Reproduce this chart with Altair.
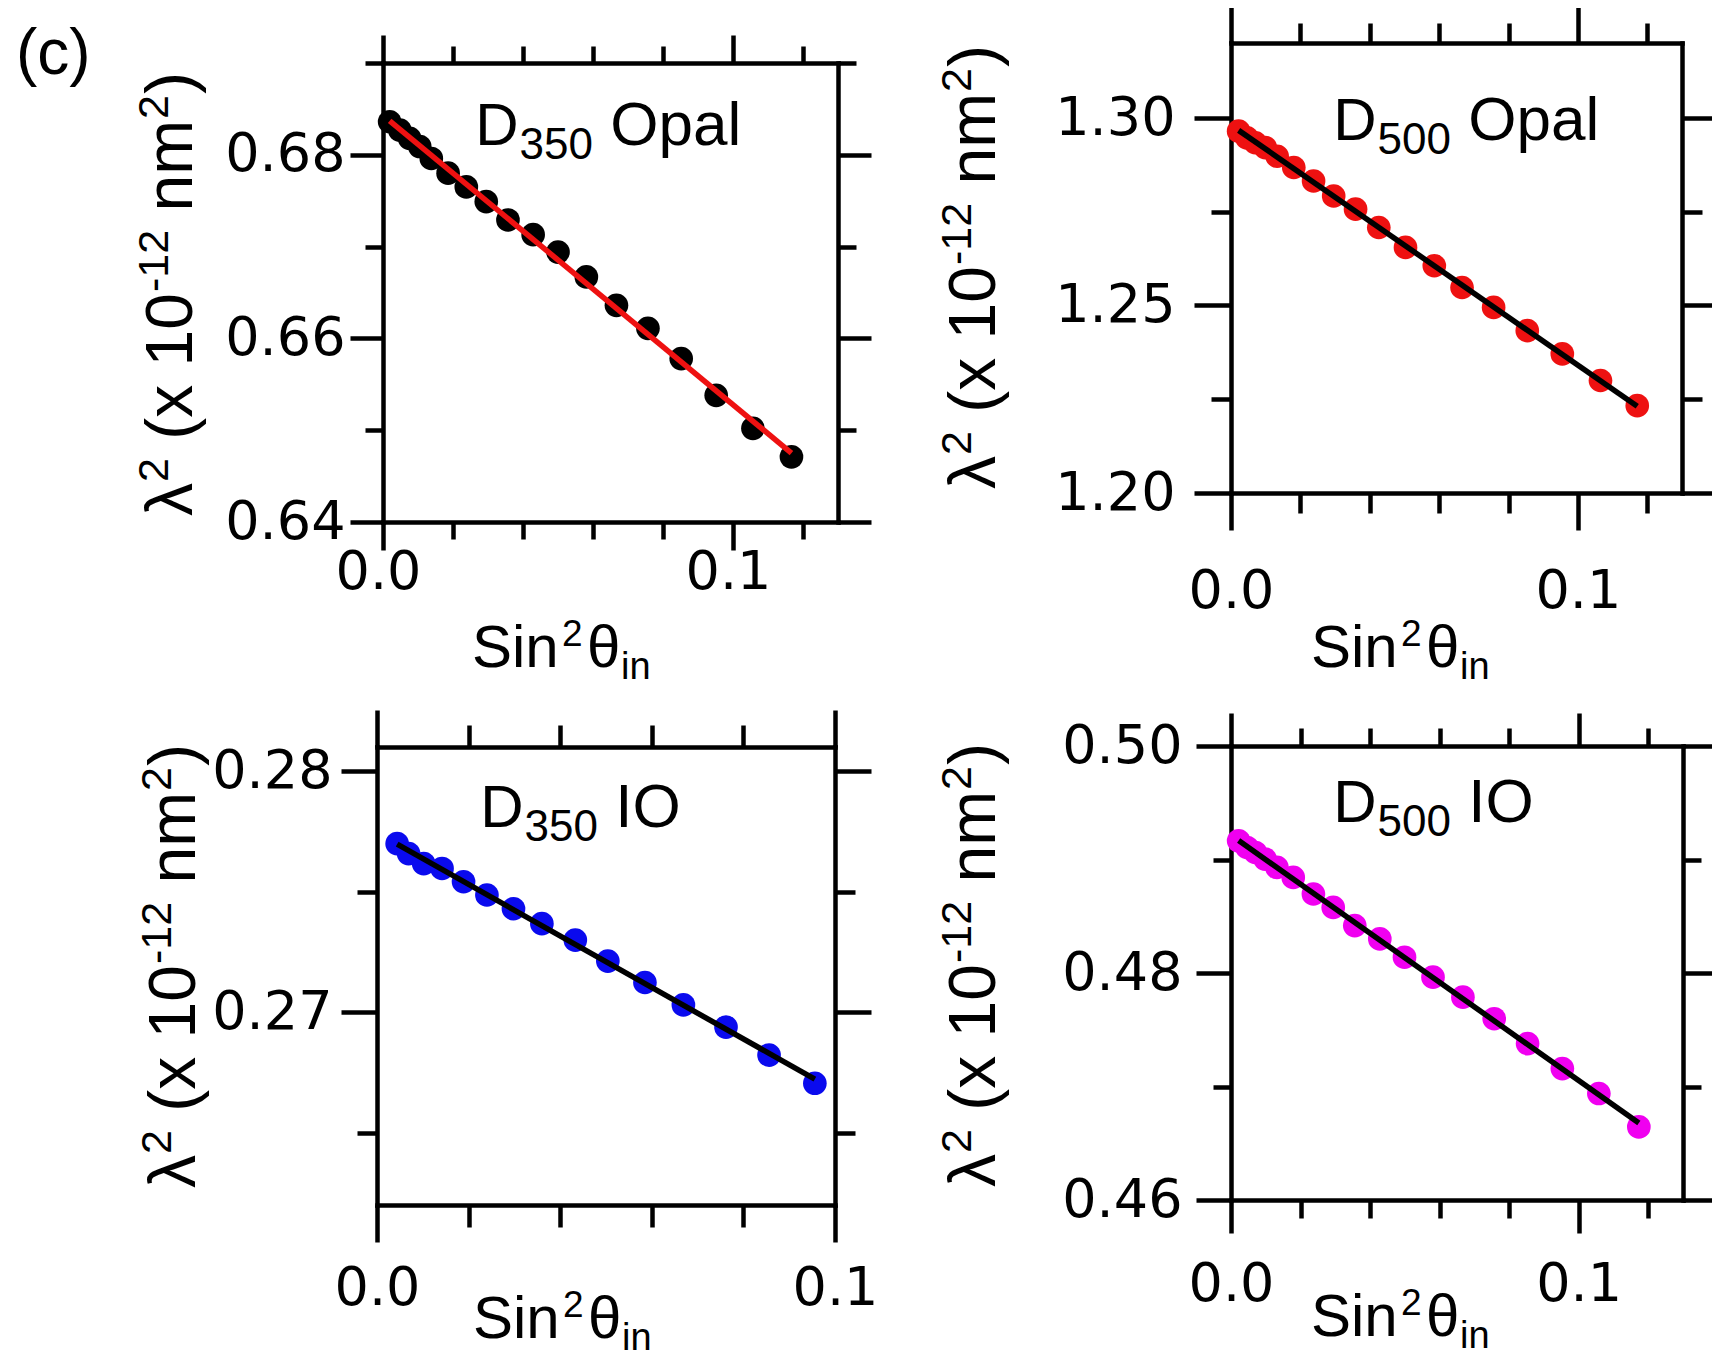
import json
import altair as alt
import pandas as pd

FONT = "Liberation Sans"
TICKFONT = "DejaVu Sans"
W, H = 1704, 1354
M = 8  # page margin (full-image px -> chart px)

# ---------------- data ----------------
# (c) D350 Opal
p1_x = [0.0019, 0.0048, 0.0076, 0.0105, 0.0138, 0.0186, 0.0238, 0.0295, 0.0357,
        0.0429, 0.0500, 0.0581, 0.0667, 0.0757, 0.0852, 0.0952, 0.1057, 0.1167]
p1_y = [0.6836, 0.6827, 0.6818, 0.6809, 0.6796, 0.6780, 0.6765, 0.6749, 0.6729,
        0.6713, 0.6694, 0.6667, 0.6636, 0.6611, 0.6578, 0.6538, 0.6502, 0.6471]
# D500 Opal
p2_x = [0.0022, 0.0046, 0.0070, 0.0099, 0.0133, 0.0181, 0.0238, 0.0296, 0.0359,
        0.0426, 0.0503, 0.0586, 0.0666, 0.0757, 0.0854, 0.0955, 0.1065, 0.1171]
p2_y = [1.2965, 1.2947, 1.2934, 1.2921, 1.2898, 1.2868, 1.2832, 1.2792, 1.2757,
        1.2708, 1.2655, 1.2606, 1.2548, 1.2495, 1.2433, 1.2371, 1.2300, 1.2233]
# D350 IO
p3_x = [0.0044, 0.0069, 0.0102, 0.0142, 0.0189, 0.0240, 0.0298, 0.0360, 0.0433,
        0.0504, 0.0585, 0.0669, 0.0762, 0.0856, 0.0956]
p3_y = [0.27699, 0.27658, 0.27616, 0.27596, 0.27541, 0.27486, 0.27429, 0.27367,
        0.27299, 0.27212, 0.27123, 0.27030, 0.26938, 0.26822, 0.26705]
# D500 IO
p4_x = [0.0022, 0.0046, 0.0070, 0.0098, 0.0132, 0.0179, 0.0237, 0.0294, 0.0356,
        0.0428, 0.0499, 0.0581, 0.0667, 0.0757, 0.0853, 0.0953, 0.1058, 0.1173]
p4_y = [0.49165, 0.49106, 0.49062, 0.49004, 0.48930, 0.48842, 0.48696, 0.48578,
        0.48418, 0.48300, 0.48139, 0.47963, 0.47787, 0.47597, 0.47378, 0.47158,
        0.46938, 0.46644]

# tick values and labelled (major) ticks
x_ticks_13 = [0, 0.02, 0.04, 0.06, 0.08, 0.1, 0.12]
x_ticks_10 = [0, 0.02, 0.04, 0.06, 0.08, 0.1]
x_major = [0, 0.1]
p1_yticks = [0.64, 0.65, 0.66, 0.67, 0.68, 0.69]
p1_ymajor = [0.64, 0.66, 0.68]
p2_yticks = [1.2, 1.225, 1.25, 1.275, 1.3]
p2_ymajor = [1.2, 1.25, 1.3]
p3_yticks = [0.265, 0.27, 0.275, 0.28]
p3_ymajor = [0.27, 0.28]
p4_yticks = [0.46, 0.47, 0.48, 0.49, 0.5]
p4_ymajor = [0.46, 0.48, 0.5]

names = [("D", "350", "Opal"), ("D", "500", "Opal"), ("D", "350", "IO"), ("D", "500", "IO")]

# ---------------- layout (full-image pixels) ----------------
panels = [
    dict(x=p1_x, y=p1_y, pt="black", ln="#ee1111", box=(383, 838, 63, 522),
         xdom=[0, 0.13], ydom=[0.64, 0.69], xt=x_ticks_13, yt=p1_yticks, ym=p1_ymajor,
         xtick=(28, 17), ytick=(33, 18), xpad=-5, ypad=5, xloff=-5,
         ann=(480, 145), xt_pos=(475, 667), yt_pos=(192, 294)),
    dict(x=p2_x, y=p2_y, pt="#ee1111", ln="black", box=(1231, 1682, 43, 493),
         xdom=[0, 0.13], ydom=[1.20, 1.32], xt=x_ticks_13, yt=p2_yticks, ym=p2_ymajor,
         xtick=(37, 20), ytick=(37, 20), xpad=34, ypad=19, xloff=0,
         ann=(1338, 140), xt_pos=(1314, 667), yt_pos=(995, 267)),
    dict(x=p3_x, y=p3_y, pt="#0a0aee", ln="black", box=(377, 835, 747, 1205),
         xdom=[0, 0.1], ydom=[0.262, 0.281], xt=x_ticks_10, yt=p3_yticks, ym=p3_ymajor,
         xtick=(37, 22), ytick=(36, 20), xpad=19, ypad=9, xloff=0,
         ann=(485, 827), xt_pos=(476, 1338), yt_pos=(195, 966)),
    dict(x=p4_x, y=p4_y, pt="#f000f0", ln="black", box=(1231, 1683, 746, 1200),
         xdom=[0, 0.13], ydom=[0.46, 0.50], xt=x_ticks_13, yt=p4_yticks, ym=p4_ymajor,
         xtick=(33, 18), ytick=(35, 18), xpad=24, ypad=14, xloff=0,
         ann=(1338, 822), xt_pos=(1314, 1336), yt_pos=(995, 965)),
]


def mk_axis(orient, values, major, fmt, offset, labels, tick, pad=0, loff=0):
    test = "indexof(%s, datum.value) >= 0" % json.dumps(major)
    kw = dict(orient=orient, values=values, offset=offset, grid=False, title=None,
              domainColor="black", domainWidth=4.5, domainCap="square",
              tickColor="black", tickWidth=4.5,
              tickSize={"condition": {"test": test, "value": tick[0]}, "value": tick[1]})
    if labels:
        kw.update(labels=True, format=fmt, labelExpr="(%s) ? datum.label : ''" % test,
                  labelFont=TICKFONT, labelFontSize=54, labelColor="black",
                  labelPadding=pad, labelFlush=False, labelOverlap=False, labelBound=False)
        if loff:
            kw["labelOffset"] = loff
    else:
        kw.update(labels=False)
    return alt.Axis(**kw)


def txt(s, x, y, size, angle=None):
    kw = dict(align="left", baseline="alphabetic", font=FONT, fontSize=size, color="black")
    if angle is not None:
        kw["angle"] = angle
    return alt.Chart(pd.DataFrame({"t": [s]})).mark_text(**kw).encode(
        x=alt.value(x), y=alt.value(y), text="t:N")


EM = {"λ": 0.5, "2": 0.556, " ": 0.278, "(": 0.333, "x": 0.5, "1": 0.556, "0": 0.556,
      "-": 0.333, "n": 0.556, "m": 0.833, ")": 0.333}


def em(s):
    return sum(EM[c] for c in s)


layers = []
for p, (d, sub, rest) in zip(panels, names):
    x0, x1, y0, y1 = [v - M for v in p["box"]]
    xs = alt.Scale(domain=p["xdom"], range=[x0, x1], nice=False, zero=False)
    ys = alt.Scale(domain=p["ydom"], range=[y1, y0], nice=False, zero=False)
    ax_b = mk_axis("bottom", p["xt"], x_major, ".1f", y1 - H, True, p["xtick"],
                   p["xpad"], p["xloff"])
    ax_t = mk_axis("top", p["xt"], x_major, ".1f", -y0, False, p["xtick"])
    ax_l = mk_axis("left", p["yt"], p["ym"], ".2f", -x0, True, p["ytick"], p["ypad"])
    ax_r = mk_axis("right", p["yt"], p["ym"], ".2f", x1 - W, False, p["ytick"])
    df = pd.DataFrame({"x": p["x"], "y": p["y"]})
    pts = alt.Chart(df).mark_circle(size=560, color=p["pt"], opacity=1).encode(
        x=alt.X("x:Q", scale=xs, axis=ax_b), y=alt.Y("y:Q", scale=ys, axis=ax_l))
    line = alt.Chart(df).transform_regression("x", "y").mark_line(
        color=p["ln"], strokeWidth=5.5).encode(
        x=alt.X("x:Q", scale=xs, axis=ax_t), y=alt.Y("y:Q", scale=ys, axis=ax_r))
    layers += [pts, line]

    # annotation  D_sub name
    ax, ab = p["ann"]
    dx = ax - 4.7 - M
    by = ab - M
    layers.append(txt(d, dx, by, 60))
    layers.append(txt(sub, dx + 44.3, by + 14, 44))
    layers.append(txt(rest, dx + 135, by, 62))

    # x title  Sin^2 theta_in
    X0, B = p["xt_pos"]
    X0 -= M
    B -= M
    layers.append(txt("Sin", X0 - 3, B, 60))
    layers.append(txt("2", X0 + 87, B - 21, 37))
    layers.append(txt("θ", X0 + 112, B, 60))
    layers.append(txt("in", X0 + 146, B + 12, 38))

    # y title  lambda^2 (x 10^-12 nm^2), rotated
    xb, cy = p["yt_pos"]
    xb -= M
    cy -= M
    F, S, R = 66, 43, 24
    total = 5.001 * F + 2.557 * S + 4
    ystart = cy + total / 2
    s = 0.0
    pieces = []
    pieces.append(("λ", F, 0, s)); s += em("λ") * F
    pieces.append(("2", S, R, s + 1)); s += em("2") * S + 1
    s += em(" ") * F
    pieces.append(("(x 10", F, 0, s)); s += em("(x 10") * F
    pieces.append(("-12", S, R, s + 1)); s += em("-12") * S + 1
    s += em(" ") * F
    pieces.append(("nm", F, 0, s)); s += em("nm") * F
    pieces.append(("2", S, R, s + 1)); s += em("2") * S + 1
    pieces.append((")", F, 0, s + 1))
    for t, fs, r, off in pieces:
        layers.append(txt(t, xb - r, ystart - off, fs, angle=270))

# panel label
layers.append(txt("(c)", 8, 66, 64))

chart = alt.layer(*layers).resolve_scale(x="independent", y="independent").properties(
    width=W, height=H, padding=0, autosize=alt.AutoSizeParams(type="none"),
    background="white"
).configure_view(stroke=None)

chart.save("out.html", embed_options={"renderer": "svg", "actions": False})
